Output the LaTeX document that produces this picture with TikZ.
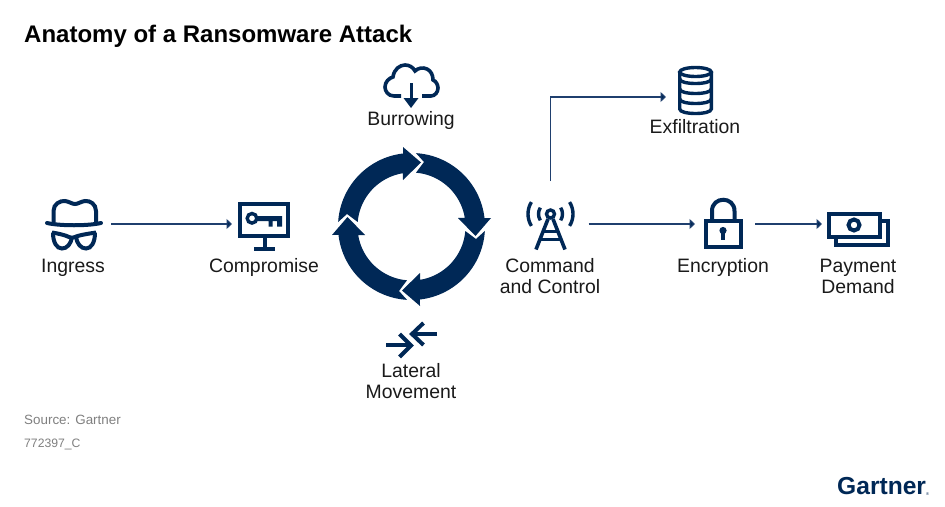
\documentclass[tikz,border=0pt]{standalone}
\usepackage{fontspec}
\setmainfont{Liberation Sans}
\usetikzlibrary{arrows.meta}
\definecolor{navy}{HTML}{002856}
\definecolor{linec}{HTML}{1F3F6E}
\definecolor{ink}{HTML}{1A1A1A}
\definecolor{muted}{HTML}{808080}
\tikzset{
  lbl/.style={anchor=base,inner sep=0,text=ink,font=\fontsize{19.4}{21}\selectfont},
  muted text/.style={anchor=base west,inner sep=0,text=muted,font=\fontsize{13.4}{15}\selectfont},
  slot/.style={inner sep=0,outer sep=0,minimum width=#1,minimum height=60},
  conn/.style={draw=linec,line width=1.2pt,-{Triangle[length=5.5pt,width=10pt,fill=navy]}},
  icon/.style={draw=navy,line width=4pt,fill=none},
  thin icon/.style={draw=navy,line width=3.4pt,fill=none},
}
\newcommand{\ringarrow}[1]{%
  \fill[navy,rotate=#1]
    (176.5:73.5) arc[start angle=176.5,end angle=96.6,radius=73.5]
    -- (-8.5,79.5) -- (9.5,64) -- (-8.5,46.5) -- (99.2:54)
    arc[start angle=99.2,end angle=175.2,radius=54]
    -- (-64.5,12.5) -- cycle;}
\begin{document}
\begin{tikzpicture}[x=1pt,y=-1pt]
\useasboundingbox (0,0) rectangle (945,506);
\fill[white] (0,0) rectangle (945,506);

\node[anchor=base west,inner sep=0,text=black,font=\fontsize{24}{26}\selectfont\bfseries] (title) at (24,42) {Anatomy of a Ransomware Attack};

% anchor slots for connectors
\node[slot=76] (spy) at (73,224) {};
\node[slot=64] (monitor) at (264,224) {};
\node[slot=76,minimum height=86] (tower) at (550.5,224) {};
\node[slot=60] (lock) at (725,224) {};
\node[slot=72] (cash) at (858,224) {};
\node[slot=60,minimum height=40] (stack) at (696,97) {};

% connectors
\draw[conn] (spy.east) -- (monitor.west);
\draw[conn] (tower.east) -- (lock.west);
\draw[conn] (lock.east) -- (cash.west);
\draw[conn] (tower.north) |- (stack.west);

% ring
\begin{scope}[shift={(411.5,226.5)},x=1pt,y=1pt]
\ringarrow{0}\ringarrow{-90}\ringarrow{-180}\ringarrow{-270}
\end{scope}

% spy icon
\draw[icon,line cap=round] (47,223) .. controls (60,226) and (88,226) .. (101,223);
\draw[icon] (53.5,223) -- (53.5,211) .. controls (53.5,204) and (60,200.5) .. (65,201)
  .. controls (69,201.5) and (72,204) .. (75,204) .. controls (78,204) and (81,201.5) .. (85,201)
  .. controls (90,200.5) and (96,204) .. (96,211) -- (96,223);
\draw[icon] (52,232.5) .. controls (58,233.5) and (65,235) .. (69,237) .. controls (71,238) and (73,238) .. (75,237)
  .. controls (79,235) and (90,233.5) .. (96,232.5);
\draw[icon] (53,232.5) .. controls (53,243) and (57,248.5) .. (62,248.5) .. controls (67,248.5) and (71,244) .. (72,237);
\draw[icon] (95,232.5) .. controls (95,243) and (91,248.5) .. (86,248.5) .. controls (81,248.5) and (77,244) .. (76,237);

% monitor with key
\draw[icon] (240,204) rectangle (288,236);
\draw[icon] (265,238) -- (265,248) (254,248.5) -- (275,248.5);
\draw[thin icon] (252,218.3) circle (4.8);
\fill[navy] (256,216) rectangle (282,221) (268.5,221) rectangle (272.5,226.5) (277,221) rectangle (282,226.5);

% cloud
\draw[icon,line width=3.6pt] (401,96) -- (394,96) .. controls (388,96) and (385,91) .. (385,87)
  .. controls (385,82) and (389,78) .. (393,77) .. controls (394,69) and (400,65) .. (405,65)
  .. controls (409,65) and (413,67) .. (415,71) .. controls (418,68) and (423,67) .. (427,69)
  .. controls (431,71) and (433,75) .. (433,80) .. controls (436,81) and (438,85) .. (438,88)
  .. controls (438,92) and (435,96) .. (431,96) -- (422,96);
\draw[navy,line width=3pt] (411,83) -- (411,103);
\fill[navy] (403.5,98) -- (418.5,98) -- (411,108) -- cycle;
\node[lbl] (burrowing) at (411,125) {Burrowing};

% lateral movement
\draw[icon] (386,345) -- (410,345);
\draw[icon] (399.5,334) -- (411,345.5) -- (399.5,357);
\draw[icon] (437,334) -- (413,334);
\draw[icon] (423.5,323) -- (412,334) -- (423.5,345);

% antenna
\draw[thin icon] (550.5,214) circle (4);
\draw[icon,line width=3.6pt] (548,219) -- (536,249.5) (553,219) -- (565,249.5);
\draw[navy,line width=3pt] (544,231) -- (557,231) (540.5,239.5) -- (560.5,239.5);
\begin{scope}[shift={(550.5,214)},x=1pt,y=1pt]
\draw[thin icon] (148:12) arc[start angle=148,end angle=212,radius=12];
\draw[thin icon] (32:12) arc[start angle=32,end angle=-32,radius=12];
\draw[thin icon] (148:22.5) arc[start angle=148,end angle=212,radius=22.5];
\draw[thin icon] (32:22.5) arc[start angle=32,end angle=-32,radius=22.5];
\end{scope}

% lock
\draw[icon] (706,221) rectangle (740.5,247);
\draw[icon] (712,220) -- (712,211) .. controls (712,196) and (734.5,196) .. (734.5,211) -- (734.5,220);
\fill[navy] (723,230.5) circle (3.6);
\fill[navy] (721,231) rectangle (725,240);

% stack
\draw[thin icon] (695.5,72) ellipse (15.8 and 4.5);
\draw[thin icon] (679.7,72) -- (679.7,109) .. controls (679.7,115) and (711.3,115) .. (711.3,109) -- (711.3,72);
\draw[thin icon] (679.7,79) .. controls (679.7,85) and (711.3,85) .. (711.3,79);
\draw[thin icon] (679.7,89) .. controls (679.7,95) and (711.3,95) .. (711.3,89);
\draw[thin icon] (679.7,99) .. controls (679.7,105) and (711.3,105) .. (711.3,99);

% cash
\draw[icon] (829,214) rectangle (880,236.5);
\draw[icon] (882,221) -- (887.5,221) -- (887.5,245) -- (836,245) -- (836,238);
\draw[icon] (854,225) circle (5.5);

% labels
\node[lbl] (ingress) at (73,272) {Ingress};
\node[lbl] (compromise) at (264,272) {Compromise};
\node[lbl] (lateral) at (411,377) {Lateral};
\node[lbl] (movement) at (411,398) {Movement};
\node[lbl] (command) at (550,272) {Command};
\node[lbl] (control) at (550,293) {and Control};
\node[lbl] (encryption) at (723,272) {Encryption};
\node[lbl] (exfil) at (695,133) {Exfiltration};
\node[lbl] (payment) at (858,272) {Payment};
\node[lbl] (demand) at (858,293) {Demand};

\node[muted text] (source) at (24,424) {Source: Gartner};
\node[muted text,font=\fontsize{12.2}{14}\selectfont] (docid) at (24,447) {772397\_C};

\node[anchor=base west,inner sep=0,text=navy,font=\fontsize{24.6}{26}\selectfont\bfseries] (logo) at (837,494) {Gartner};
\node[anchor=base west,inner sep=0,text=navy,font=\fontsize{4}{5}\selectfont] (reg) at (926,495) {®};
\end{tikzpicture}
\end{document}
